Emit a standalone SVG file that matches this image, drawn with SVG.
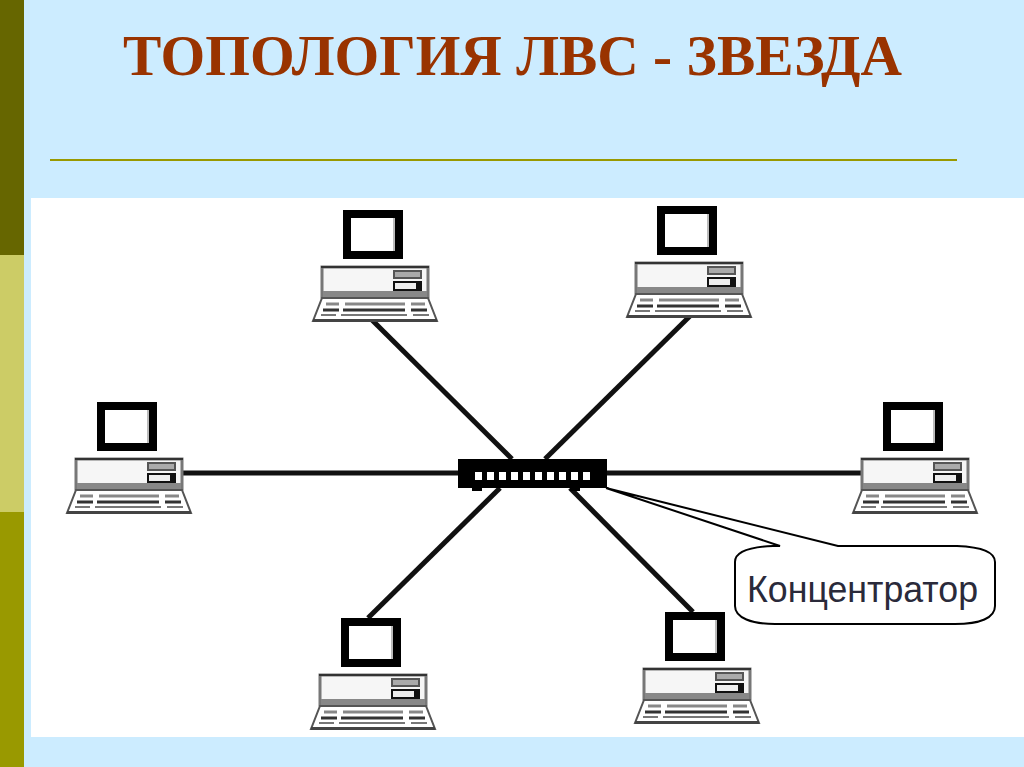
<svg xmlns="http://www.w3.org/2000/svg" width="1024" height="767" viewBox="0 0 1024 767">
<style>
.title{font-family:"Liberation Serif",serif;font-weight:bold;font-size:56px;fill:#993300}
.label{font-family:"Liberation Sans",sans-serif;font-size:37px;fill:#2a2a3a}
.link{stroke:#111;stroke-width:5;fill:none}
.thin{stroke:#000;stroke-width:2;fill:none}
</style>
<defs>
<g id="pc">
<rect x="35" y="4" width="52" height="41" fill="#fff" stroke="#000" stroke-width="8"/>
<rect x="81" y="8" width="2" height="33" fill="#bbb"/>
<rect x="10" y="57" width="106" height="30" fill="#f6f6f6" stroke="#777" stroke-width="3"/>
<rect x="9" y="56" width="108" height="2" fill="#333"/>
<rect x="11" y="81" width="104" height="6" fill="#888"/>
<rect x="82" y="61" width="27" height="7" fill="#aaa" stroke="#555" stroke-width="2"/>
<rect x="82" y="72" width="27" height="8" fill="#eee" stroke="#111" stroke-width="2"/>
<rect x="104" y="73" width="5" height="6" fill="#111"/>
<path d="M10 88H116L125 111H1Z" fill="#fff" stroke="#555" stroke-width="2"/>
<rect x="1" y="109" width="124" height="3" fill="#444"/>
<path d="M14 94H27M33 94H93M99 94H113" stroke="#888" stroke-width="3"/>
<path d="M11 100H27M31 100H93M99 100H115" stroke="#333" stroke-width="3"/>
<path d="M9 105H24M29 105H95M101 105H117" stroke="#777" stroke-width="2"/>
</g>
</defs>
<rect width="1024" height="767" fill="#ccecff"/>
<rect width="24" height="255" fill="#666600"/>
<rect y="255" width="24" height="257" fill="#cccc66"/>
<rect y="512" width="24" height="255" fill="#999900"/>
<text class="title" x="123" y="75" textLength="779" lengthAdjust="spacingAndGlyphs">ТОПОЛОГИЯ ЛВС - ЗВЕЗДА</text>
<rect x="50" y="159" width="907" height="2" fill="#999900"/>
<rect x="31" y="198" width="993" height="539" fill="#fff"/>
<g id="connectors">
<path class="link" d="M180 473H460"/>
<path class="link" d="M606 473H862"/>
<path class="link" d="M372 320L512 459"/>
<path class="link" d="M690 316L545 459"/>
<path class="link" d="M500 488L368 618"/>
<path class="link" d="M570 488L693 612"/>
</g>
<g id="pc-top-left"><use href="#pc" x="312" y="210"/></g>
<g id="pc-top-right"><use href="#pc" x="626" y="206"/></g>
<g id="pc-left"><use href="#pc" x="66" y="402"/></g>
<g id="pc-right"><use href="#pc" x="852" y="402"/></g>
<g id="pc-bottom-left"><use href="#pc" x="310" y="618"/></g>
<g id="pc-bottom-right"><use href="#pc" x="634" y="612"/></g>
<g id="hub">
<rect x="458" y="459" width="149" height="29" fill="#000"/>
<rect x="472" y="488" width="10" height="3" fill="#000"/>
<rect x="570" y="488" width="10" height="3" fill="#000"/>
<path d="M475 476H590" stroke="#fff" stroke-width="8" stroke-dasharray="7 5" fill="none"/>
</g>
<g id="callout">
<path class="thin" fill="#fff" d="M606 488L780 546H773C750 547 735 552 735 562V606C735 618 752 624 775 624H955C980 624 995 618 995 606V562C995 552 982 547 957 546H838L606 488"/>
<text class="label" x="747" y="602" textLength="231" lengthAdjust="spacingAndGlyphs">Концентратор</text>
</g>
</svg>
